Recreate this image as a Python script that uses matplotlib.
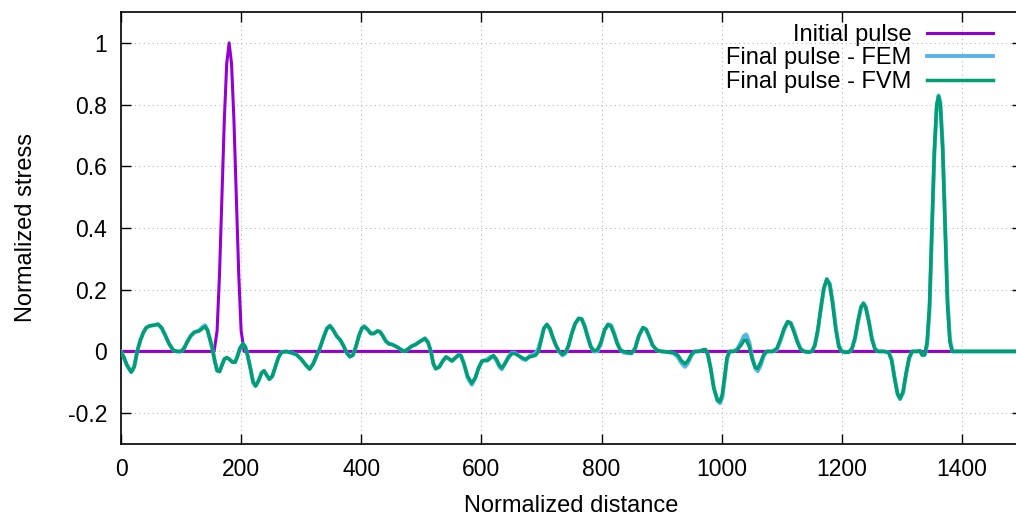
import numpy as np
import matplotlib
matplotlib.use("Agg")
import matplotlib.pyplot as plt
from matplotlib.ticker import FormatStrFormatter

plt.rcParams['font.family'] = ['Liberation Sans', 'DejaVu Sans']
plt.rcParams['axes.unicode_minus'] = False

# initial pulse
init_x = [0, 155, 160, 164, 168, 172, 176, 180, 184, 188, 192, 196, 200, 205, 1500]
init_y = [0, 0, 0.067, 0.25, 0.5, 0.75, 0.933, 1.0, 0.933, 0.75, 0.5, 0.25, 0.067, 0, 0]

# final pulses, sampled at the same distances
fin_x = [0, 5, 10, 17, 22, 27, 32, 37, 42, 48, 55, 62, 68, 73, 80, 87, 93, 100,
         105, 110, 116, 122, 130, 136, 140, 144, 148, 152, 156, 160, 164, 168,
         172, 176, 180, 186, 190, 194, 198, 203, 207, 211, 216, 220, 224, 229,
         234, 238, 242, 247, 252, 257, 262, 267, 275, 283, 292, 300, 308, 314,
         320, 326, 331, 337, 343, 348, 353, 359, 365, 370, 376, 381, 386, 391,
         396, 401, 405, 410, 416, 421, 427, 431, 436, 441, 446, 452, 459, 466,
         472, 478, 484, 490, 496, 501, 506, 511, 516, 520, 524, 530, 536, 541,
         546, 551, 556, 562, 566, 571, 577, 584, 590, 595, 601, 606, 610, 615,
         620, 625, 630, 634, 639, 645, 651, 657, 663, 669, 674, 680, 686, 690,
         695, 700, 704, 709, 714, 719, 724, 729, 735, 740, 745, 750, 756, 762,
         767, 772, 777, 782, 787, 793, 799, 805, 811, 816, 821, 826, 831, 836,
         843, 850, 856, 862, 869, 874, 879, 885, 892, 900, 910, 920, 927, 933,
         939, 944, 950, 955, 962, 968, 973, 977, 982, 987, 993, 997, 1001, 1005,
         1009, 1013, 1020, 1026, 1032, 1037, 1041, 1046, 1051, 1056, 1060, 1065,
         1070, 1075, 1085, 1092, 1098, 1104, 1110, 1115, 1120, 1126, 1131, 1137,
         1145, 1150, 1155, 1160, 1165, 1170, 1175, 1180, 1185, 1190, 1195, 1200,
         1207, 1212, 1217, 1222, 1227, 1232, 1236, 1240, 1245, 1250, 1255, 1260,
         1270, 1278, 1283, 1288, 1293, 1297, 1302, 1307, 1312, 1317, 1325, 1330,
         1334, 1338, 1342, 1346, 1350, 1354, 1358, 1361, 1364, 1368, 1372, 1376,
         1380, 1384, 1500]

fvm_y = [0, -0.02, -0.045, -0.067, -0.05, 0, 0.035, 0.06, 0.077, 0.083, 0.085, 0.088,
         0.075, 0.055, 0.025, 0.004, 0, 0, 0.01, 0.03, 0.05, 0.062, 0.066, 0.075,
         0.08, 0.068, 0.04, 0.01, -0.03, -0.062, -0.065, -0.045, -0.025, -0.02,
         -0.025, -0.035, -0.035, -0.015, 0.01, 0.025, 0.015, -0.015, -0.06, -0.1,
         -0.112, -0.095, -0.07, -0.063, -0.075, -0.09, -0.08, -0.05, -0.02, -0.003,
         0, -0.004, -0.01, -0.025, -0.045, -0.057, -0.04, -0.012, 0.01, 0.045,
         0.075, 0.082, 0.07, 0.05, 0.037, 0.02, -0.005, -0.017, -0.012, 0.015,
         0.05, 0.075, 0.08, 0.072, 0.058, 0.058, 0.066, 0.064, 0.05, 0.033,
         0.024, 0.022, 0.015, 0.006, 0, 0.008, 0.017, 0.022, 0.03, 0.036, 0.041,
         0.03, 0.0, -0.04, -0.056, -0.05, -0.03, -0.018, -0.024, -0.031, -0.022,
         -0.012, -0.015, -0.04, -0.08, -0.103, -0.085, -0.055, -0.031, -0.03,
         -0.03, -0.022, -0.013, -0.025, -0.045, -0.053, -0.04, -0.02, -0.006,
         -0.008, -0.015, -0.022, -0.025, -0.018, -0.015, -0.013, 0.0, 0.04,
         0.075, 0.088, 0.075, 0.045, 0.02, 0.002, -0.01, -0.003, 0.02, 0.055,
         0.09, 0.107, 0.105, 0.08, 0.045, 0.015, 0.002, 0.005, 0.03, 0.07,
         0.087, 0.08, 0.055, 0.025, 0.006, 0.0, -0.003, -0.006, 0.01, 0.05,
         0.077, 0.072, 0.05, 0.02, 0.004, 0.0, -0.002, -0.004, -0.012, -0.03,
         -0.04, -0.03, -0.008, 0.0, 0.0, 0.004, 0.006, -0.01, -0.06, -0.12,
         -0.158, -0.162, -0.14, -0.08, -0.02, 0.0, 0.0, 0.005, 0.02, 0.035,
         0.037, 0.015, -0.025, -0.052, -0.055, -0.035, -0.01, 0.0, 0.0, 0.01,
         0.04, 0.075, 0.097, 0.09, 0.065, 0.03, 0.008, 0.0, -0.002, 0.0, 0.02,
         0.07, 0.14, 0.205, 0.233, 0.215, 0.15, 0.07, 0.015, 0.0, -0.003, -0.002,
         0.01, 0.045, 0.1, 0.145, 0.155, 0.14, 0.095, 0.04, 0.008, 0.0, 0.0,
         -0.003, -0.03, -0.09, -0.14, -0.152, -0.13, -0.07, -0.02, 0.0, 0.0,
         0.002, -0.012, -0.01, 0.03, 0.15, 0.4, 0.65, 0.8, 0.826, 0.8, 0.65,
         0.4, 0.15, 0.03, 0.0, 0.0]

fem_y = [0, -0.02, -0.045, -0.067, -0.05, 0, 0.035, 0.06, 0.077, 0.083, 0.085, 0.088,
         0.075, 0.055, 0.025, 0.004, 0, 0, 0.01, 0.03, 0.05, 0.062, 0.068, 0.08,
         0.085, 0.07, 0.04, 0.01, -0.03, -0.062, -0.065, -0.045, -0.025, -0.02,
         -0.025, -0.035, -0.035, -0.015, 0.01, 0.025, 0.015, -0.015, -0.06, -0.1,
         -0.112, -0.095, -0.07, -0.063, -0.075, -0.09, -0.08, -0.05, -0.02, -0.003,
         0, -0.004, -0.01, -0.025, -0.045, -0.057, -0.04, -0.012, 0.01, 0.045,
         0.075, 0.084, 0.07, 0.05, 0.037, 0.02, -0.005, -0.017, -0.012, 0.015,
         0.05, 0.075, 0.082, 0.072, 0.058, 0.058, 0.066, 0.064, 0.05, 0.033,
         0.026, 0.022, 0.015, 0.006, 0, 0.008, 0.017, 0.022, 0.03, 0.036, 0.043,
         0.03, 0.0, -0.04, -0.056, -0.05, -0.03, -0.018, -0.024, -0.031, -0.022,
         -0.01, -0.012, -0.04, -0.085, -0.108, -0.085, -0.055, -0.031, -0.028,
         -0.025, -0.017, -0.015, -0.03, -0.05, -0.058, -0.04, -0.017, -0.004,
         -0.006, -0.015, -0.025, -0.028, -0.015, -0.01, -0.006, 0.01, 0.045,
         0.075, 0.086, 0.072, 0.045, 0.02, 0.0, -0.013, -0.006, 0.017, 0.055,
         0.09, 0.107, 0.105, 0.083, 0.05, 0.018, 0.0, 0.0, 0.025, 0.068,
         0.088, 0.085, 0.06, 0.03, 0.006, -0.003, -0.006, -0.006, 0.01, 0.05,
         0.077, 0.072, 0.05, 0.02, 0.004, 0.0, -0.002, -0.006, -0.018, -0.038,
         -0.05, -0.038, -0.012, 0.0, 0.0, 0.004, 0.006, -0.01, -0.055, -0.118,
         -0.16, -0.168, -0.15, -0.09, -0.025, 0.0, 0.0, 0.008, 0.03, 0.05,
         0.055, 0.03, -0.02, -0.055, -0.064, -0.045, -0.015, 0.0, 0.0, 0.006,
         0.035, 0.07, 0.095, 0.093, 0.07, 0.035, 0.01, 0.0, -0.002, 0.0, 0.018,
         0.065, 0.135, 0.2, 0.235, 0.22, 0.16, 0.08, 0.02, 0.0, -0.003, -0.002,
         0.008, 0.04, 0.095, 0.14, 0.157, 0.145, 0.1, 0.045, 0.01, 0.0, 0.0,
         -0.003, -0.025, -0.085, -0.137, -0.155, -0.135, -0.075, -0.025, 0.0, 0.0,
         0.002, -0.012, -0.012, 0.02, 0.13, 0.38, 0.63, 0.79, 0.83, 0.81, 0.67,
         0.42, 0.17, 0.04, 0.0, 0.0]

fig = plt.figure(figsize=(10.16, 5.17), dpi=100)
ax = fig.add_axes([121 / 1016, 1 - 444 / 517, 901 / 1016, 432 / 517])

ax.plot(init_x, init_y, color='#9400D3', lw=2.2, label='Initial pulse', zorder=3)
ax.plot(fin_x, fem_y, color='#56B4E9', lw=2.8, label='Final pulse - FEM', zorder=4)
ax.plot(fin_x, fvm_y, color='#009E73', lw=2.5, label='Final pulse - FVM', zorder=5)

ax.set_xlim(0, 1500)
ax.set_ylim(-0.3, 1.1)
ax.set_xticks(np.arange(0, 1401, 200))
ax.set_yticks([-0.2, 0, 0.2, 0.4, 0.6, 0.8, 1.0])
ax.yaxis.set_major_formatter(FormatStrFormatter('%g'))
ax.tick_params(direction='in', length=7, width=1, top=True, right=True,
               labelsize=16.5, pad=10, colors='black')
ax.tick_params(axis='x', pad=10)
for s in ax.spines.values():
    s.set_linewidth(1.2)
ax.grid(True, linestyle=(0, (1, 3)), color='#b8b8b8', lw=0.8)

ax.set_xlabel('Normalized distance', fontsize=17, labelpad=10)
ax.set_ylabel('Normalized stress', fontsize=17, labelpad=22)

leg = ax.legend(loc='upper right', frameon=False, markerfirst=False,
                fontsize=17, handlelength=2.8, handletextpad=0.65,
                labelspacing=0.06, borderpad=0, borderaxespad=0)
leg.set_bbox_to_anchor((993 / 1016, 1 - 24 / 517), transform=fig.transFigure)

fig.savefig('out.png', dpi=100)
